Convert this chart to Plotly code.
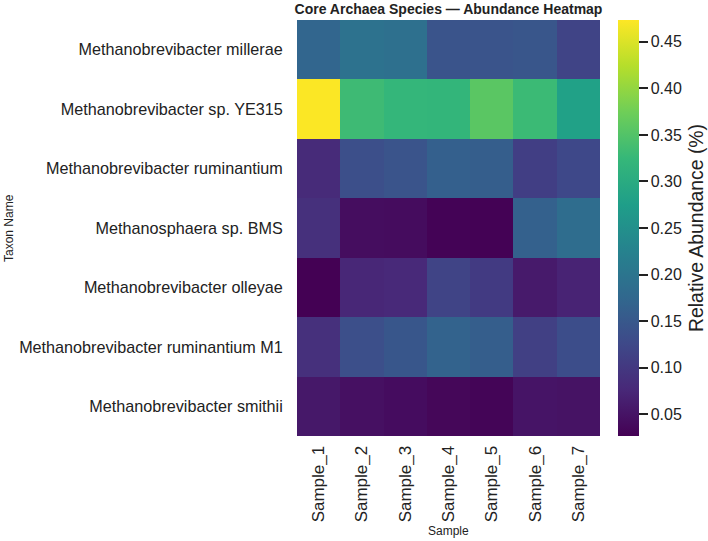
import plotly.graph_objects as go

samples = ["Sample_1", "Sample_2", "Sample_3", "Sample_4", "Sample_5", "Sample_6", "Sample_7"]
taxa = [
    "Methanobrevibacter millerae",
    "Methanobrevibacter sp. YE315",
    "Methanobrevibacter ruminantium",
    "Methanosphaera sp. BMS",
    "Methanobrevibacter olleyae",
    "Methanobrevibacter ruminantium M1",
    "Methanobrevibacter smithii",
]
millerae = [0.172, 0.195, 0.190, 0.143, 0.143, 0.146, 0.118]
ye315 = [0.472, 0.332, 0.322, 0.320, 0.357, 0.330, 0.280]
ruminantium = [0.080, 0.135, 0.143, 0.163, 0.160, 0.110, 0.125]
methanosphaera = [0.088, 0.042, 0.040, 0.029, 0.028, 0.165, 0.185]
olleyae = [0.027, 0.075, 0.078, 0.118, 0.104, 0.058, 0.070]
ruminantium_m1 = [0.088, 0.135, 0.147, 0.167, 0.160, 0.112, 0.132]
smithii = [0.056, 0.046, 0.041, 0.034, 0.031, 0.051, 0.049]
values = [millerae, ye315, ruminantium, methanosphaera, olleyae, ruminantium_m1, smithii]
cbar_ticks = [0.05, 0.10, 0.15, 0.20, 0.25, 0.30, 0.35, 0.40, 0.45]

L, R, T, B = 297, 600, 20, 436
W, H = 708, 541
pw, ph = R - L, B - T

fig = go.Figure(go.Heatmap(
    z=values, x=samples, y=taxa,
    colorscale="Viridis", zmin=0.0265, zmax=0.4735,
    xgap=0, ygap=0,
    colorbar=dict(
        x=1 + (618 - R) / pw, xanchor="left", y=0.5, yanchor="middle",
        len=1, lenmode="fraction", thickness=21, ypad=0, xpad=0,
        outlinewidth=0,
        tickvals=cbar_ticks, ticktext=[f"{v:.2f}" for v in cbar_ticks],
        ticks="outside", ticklen=9, tickcolor="#222", tickwidth=1.6,
        tickfont=dict(family="Liberation Sans, Arial", size=16, color="#222"),
    ),
))

fig.update_layout(
    width=W, height=H,
    margin=dict(l=L, r=W - R, t=T, b=H - B),
    paper_bgcolor="white", plot_bgcolor="white",
    font=dict(family="Liberation Sans, Arial", color="#222"),
    title=dict(text="<b>Core Archaea Species — Abundance Heatmap</b>",
               x=(L + R) / 2 / W, xanchor="center", y=1 - 9.5 / H, yanchor="middle",
               font=dict(size=14, color="#222")),
    xaxis=dict(tickangle=-90, tickfont=dict(size=17, color="#222"), ticks="outside",
               ticklen=2, tickcolor="rgba(0,0,0,0)", showgrid=False, zeroline=False, showline=False),
    yaxis=dict(autorange="reversed", tickfont=dict(size=16.2, color="#222"), ticks="outside",
               ticklen=10, tickcolor="rgba(0,0,0,0)", showgrid=False, zeroline=False, showline=False),
    annotations=[
        dict(text="Sample", xref="paper", yref="paper", x=0.5, y=-(531 - B) / ph,
             xanchor="center", yanchor="middle", showarrow=False, font=dict(size=12, color="#222")),
        dict(text="Taxon Name", xref="paper", yref="paper", x=-(L - 9) / pw, y=0.5,
             xanchor="center", yanchor="middle", textangle=-90, showarrow=False,
             font=dict(size=12, color="#222")),
        dict(text="Relative Abundance (%)", xref="paper", yref="paper", x=1 + (696 - R) / pw, y=0.5,
             xanchor="center", yanchor="middle", textangle=-90, showarrow=False,
             font=dict(size=19.4, color="#222")),
    ],
)

fig.write_html("out.html")
